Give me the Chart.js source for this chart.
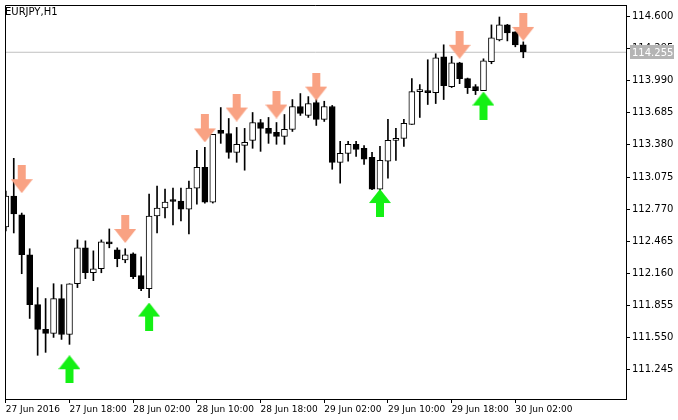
<!DOCTYPE html>
<html><head><meta charset="utf-8">
<script src="https://cdn.jsdelivr.net/npm/chart.js@4/dist/chart.umd.min.js"></script>
<style>html,body{margin:0;padding:0;background:#fff}#wrap{width:678px;height:420px}</style>
</head><body><div id="wrap"><canvas id="c" width="678" height="420"></canvas></div>
<script>
const symbolTitle = "EURJPY,H1";
const timeLabels = ["27 Jun 2016","27 Jun 18:00","28 Jun 02:00","28 Jun 10:00","28 Jun 18:00","29 Jun 02:00","29 Jun 10:00","29 Jun 18:00","30 Jun 02:00"];
const priceTicks = [114.600,114.295,113.990,113.685,113.380,113.075,112.770,112.465,112.160,111.855,111.550,111.245];
const opens  = [112.596,112.889,112.710,112.332,111.859,111.623,111.585,111.916,111.575,112.057,112.398,112.161,112.199,112.454,112.379,112.284,112.341,112.133,112.010,112.700,112.776,112.842,112.842,112.766,112.965,113.163,112.832,113.513,113.484,113.305,113.371,113.418,113.588,113.532,113.494,113.456,113.522,113.740,113.655,113.777,113.617,113.740,113.210,113.295,113.381,113.343,113.258,112.955,113.220,113.418,113.437,113.570,113.881,113.891,113.872,114.212,113.929,114.155,114.004,113.929,113.891,114.165,114.373,114.515,114.448,114.326];
const highs  = [112.936,113.248,112.728,112.389,112.020,111.916,112.057,112.048,112.057,112.473,112.464,112.369,112.473,112.577,112.398,112.389,112.350,112.313,112.908,112.984,112.955,112.965,112.965,113.031,113.324,113.352,113.475,113.730,113.626,113.541,113.532,113.683,113.617,113.636,113.588,113.664,113.806,113.863,113.834,113.806,113.790,113.750,113.409,113.409,113.409,113.370,113.305,113.362,113.617,113.532,113.617,114.004,113.948,114.184,114.241,114.326,114.215,114.160,114.010,113.948,114.193,114.515,114.590,114.520,114.450,114.354];
const lows   = [112.558,112.539,112.152,111.727,111.377,111.405,111.547,111.528,111.481,112.020,112.105,112.086,112.161,112.398,112.218,112.256,112.105,111.991,111.925,112.539,112.681,112.615,112.653,112.530,112.813,112.823,112.823,113.390,113.248,113.210,113.135,113.343,113.314,113.390,113.381,113.381,113.503,113.655,113.636,113.560,113.598,113.144,113.012,113.220,113.267,113.191,112.950,112.936,113.059,113.229,113.362,113.570,113.636,113.759,113.768,113.806,113.920,113.957,113.863,113.853,113.891,114.146,114.363,114.363,114.307,114.203];
const closes = [112.889,112.719,112.332,111.859,111.623,111.585,111.916,111.575,112.057,112.398,112.161,112.199,112.454,112.435,112.294,112.332,112.124,112.010,112.700,112.776,112.832,112.838,112.766,112.965,113.163,112.832,113.475,113.484,113.305,113.381,113.399,113.588,113.532,113.484,113.456,113.522,113.740,113.674,113.768,113.617,113.740,113.210,113.295,113.381,113.333,113.239,112.955,113.229,113.418,113.437,113.579,113.881,113.891,113.872,114.203,113.938,114.155,114.004,113.919,113.891,114.174,114.392,114.515,114.439,114.326,114.259];
const sellBars   = [2,15,25,29,34,39,57,65];
const sellPrices = [113.050,112.577,113.532,113.730,113.759,113.929,114.326,114.496];
const buyBars    = [8,18,47,60];
const buyPrices  = [111.245,111.745,112.823,113.749];
const currentPrice = 114.255;

function arrow(up, color){
  const cv=document.createElement('canvas'); cv.width=22; cv.height=28;
  const g=cv.getContext('2d'); g.fillStyle=color; g.beginPath();
  const pts = [[7,0],[15,0],[15,14],[22,14],[11,28],[0,14],[7,14]];
  pts.forEach((p,i)=>{const y= up?28-p[1]:p[1]; i?g.lineTo(p[0],y):g.moveTo(p[0],y);});
  g.closePath(); g.fill(); return cv;
}
const downImg=arrow(false,'#F9A283'), upImg=arrow(true,'#14F014');

const wickData = highs.map((h,i)=>({x:i,y:[lows[i],h]}));
const bodyData = opens.map((o,i)=>({x:i,y:[o,closes[i]]}));
const bodyFill = opens.map((o,i)=> closes[i]>=o ? '#ffffff' : '#000000');
const XMIN=-0.1, XMAX=77.9, YMIN=110.962, YMAX=114.704;

const framePlugin={id:'frame',afterDraw(ch){
  const {ctx,chartArea:a,scales:{y}}=ch;
  ctx.save(); ctx.strokeStyle='#000'; ctx.lineWidth=1;
  ctx.beginPath(); ctx.moveTo(a.left+0.5,a.bottom); ctx.lineTo(a.left+0.5,a.top+0.5); ctx.lineTo(a.right,a.top+0.5); ctx.stroke();
  ctx.font='10px "DejaVu Sans"'; ctx.fillStyle='#000'; ctx.textBaseline='middle'; ctx.fillText(symbolTitle,5,12);
  priceTicks.forEach(v=>{
    const py=Math.round(y.getPixelForValue(v))+0.5;
    ctx.beginPath(); ctx.moveTo(a.right,py); ctx.lineTo(a.right+4,py); ctx.stroke();
    ctx.fillStyle='#000'; ctx.fillText(v.toFixed(3),a.right+6,py);
  });
  const py=Math.round(y.getPixelForValue(currentPrice));
  ctx.fillStyle='#B4B4B4'; ctx.fillRect(a.right+4,py-7,44,14);
  ctx.fillStyle='#fff'; ctx.fillText(currentPrice.toFixed(3),a.right+6,py+1);
  ctx.restore();
}};

new Chart(document.getElementById('c'),{
  type:'bar',
  data:{datasets:[
    {type:'line',data:[{x:XMIN,y:currentPrice},{x:XMAX,y:currentPrice}],borderColor:'#C0C0C0',borderWidth:1,pointRadius:0,order:5},
    {data:wickData,backgroundColor:'#000',borderWidth:0,barThickness:1,grouped:false,order:3},
    {data:bodyData,backgroundColor:bodyFill,borderColor:'#000',borderWidth:1,borderSkipped:false,barThickness:6,minBarLength:2,grouped:false,order:2},
    {type:'scatter',data:sellBars.map((b,i)=>({x:b,y:sellPrices[i]})),pointStyle:downImg,order:1},
    {type:'scatter',data:buyBars.map((b,i)=>({x:b,y:buyPrices[i]})),pointStyle:upImg,order:1}
  ]},
  options:{
    responsive:false,animation:false,devicePixelRatio:1,
    layout:{padding:{left:2,top:3,right:0,bottom:0}},
    plugins:{legend:{display:false},tooltip:{enabled:false}},
    scales:{
      x:{type:'linear',offset:false,bounds:'data',min:XMIN,max:XMAX,
        afterDataLimits:s=>{s.min=XMIN;s.max=XMAX;},
        afterBuildTicks:s=>{s.ticks=timeLabels.map((_,i)=>({value:i*8}));},
        afterFit:s=>{s.height=21;},
        grid:{offset:false,drawOnChartArea:false,tickLength:4,color:'#000'},border:{color:'#000'},
        ticks:{align:'start',maxRotation:0,autoSkip:false,padding:1,color:'#000',font:{family:'DejaVu Sans',size:9},
          callback:v=>timeLabels[Math.round(v/8)]}},
      y:{position:'right',bounds:'data',min:YMIN,max:YMAX,
        afterDataLimits:s=>{s.min=YMIN;s.max=YMAX;},
        afterFit:s=>{s.width=52;},
        grid:{display:false},border:{color:'#000'},
        ticks:{display:false}}
    }
  },
  plugins:[framePlugin]
});
</script></body></html>
